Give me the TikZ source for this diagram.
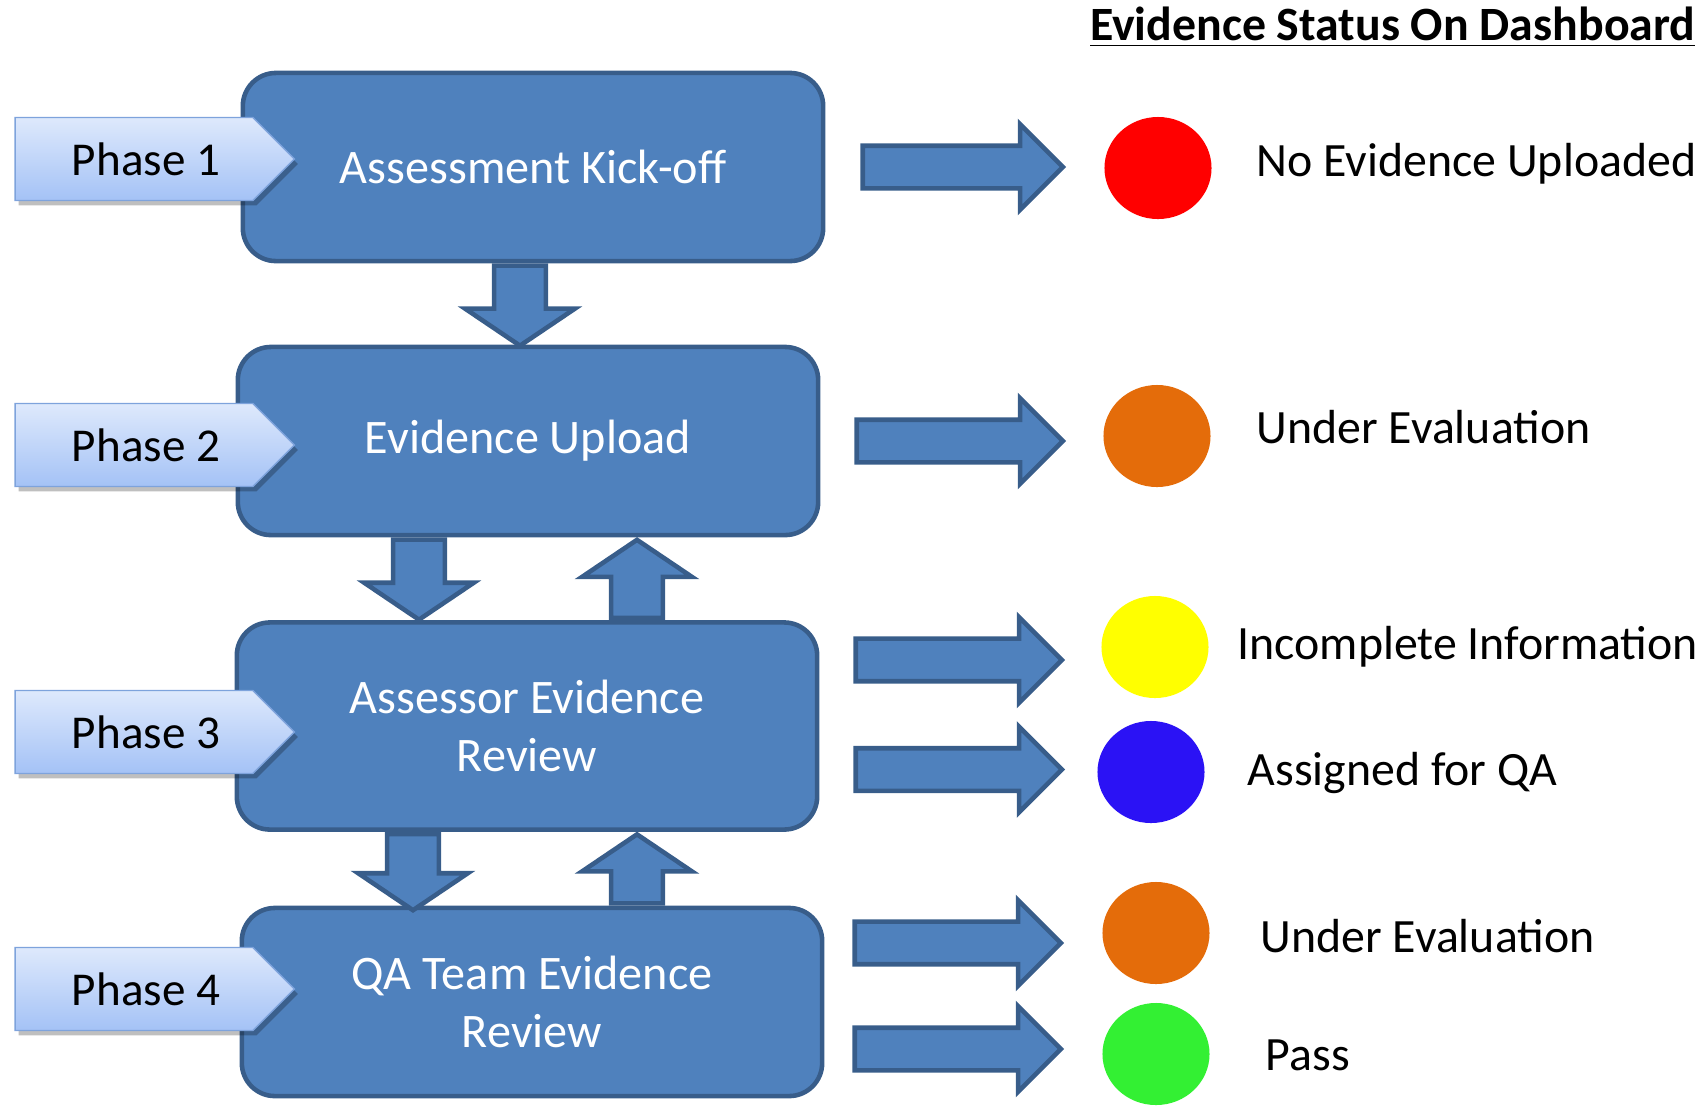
\documentclass[tikz,border=0pt]{standalone}
\usepackage{fontspec}
\setmainfont{Carlito}
\usetikzlibrary{shapes.arrows,shapes.geometric,shapes.symbols,shadows}
\definecolor{boxfill}{HTML}{4F81BD}
\definecolor{boxline}{HTML}{385D8A}
\definecolor{tagtop}{HTML}{DEE9FC}
\definecolor{tagbottom}{HTML}{A4C2F6}
\definecolor{tagline}{HTML}{7EA3DC}
\definecolor{dotred}{HTML}{FF0000}
\definecolor{dotorange}{HTML}{E46C0A}
\definecolor{dotyellow}{HTML}{FFFF00}
\definecolor{dotblue}{HTML}{2B12F5}
\definecolor{dotgreen}{HTML}{33F033}

\begin{document}
\begin{tikzpicture}[
      x=0.01cm, y=-0.01cm,
      stage box/.style={rectangle, rounded corners=0.33cm, draw=boxline, fill=boxfill,
        line width=1.3pt, minimum width=5.8cm, minimum height=#1, text=white,
        font=\fontsize{13.7}{16.5}\selectfont, align=center},
      stage box/.default=1.88cm,
      phase tag/.style={signal, signal to=east, signal pointer angle=90, draw=tagline,
        top color=tagtop, bottom color=tagbottom, minimum width=2.79cm, minimum height=0.83cm,
        font=\fontsize{13.4}{16}\selectfont,
        drop shadow={shadow xshift=1pt, shadow yshift=-1.4pt, fill=black, opacity=0.25}},
      flow arrow/.style={single arrow, draw=boxline, fill=boxfill, line width=1.3pt,
        inner xsep=0.235cm, inner ysep=0pt, single arrow head extend=0.29cm,
        single arrow tip angle=112, minimum width=0pt, minimum height=#1, anchor=tail},
      side arrow/.style={single arrow, draw=boxline, fill=boxfill, line width=1.3pt,
        inner xsep=0pt, inner ysep=0.19cm, single arrow head extend=0.215cm,
        single arrow tip angle=90, minimum width=0pt, minimum height=#1, anchor=tail},
      side arrow/.default=2.06cm,
      status dot/.style={ellipse, minimum width=1.07cm, minimum height=1.02cm, inner sep=0pt, fill=#1},
      status text/.style={anchor=base west, inner sep=0pt, font=\fontsize{13.6}{16}\selectfont}]
    \useasboundingbox (0,0) rectangle (1705,1105);

    \node[stage box] (box1) at (533,167) {Assessment Kick-off};
    \node[stage box] (box2) at (528,441) {Evidence Upload};
    \node[stage box=2.07cm] (box3) at (527,726) {Assessor Evidence\\Review};
    \node[stage box] (box4) at (532,1002) {QA Team Evidence\\Review};

    \node[phase tag] (tag1) at (134,159) {\hspace*{0.24cm}Phase 1};
    \node[phase tag] (tag2) at (134,445) {\hspace*{0.24cm}Phase 2};
    \node[phase tag] (tag3) at (134,732) {\hspace*{0.24cm}Phase 3};
    \node[phase tag] (tag4) at (134,989) {\hspace*{0.24cm}Phase 4};

    \node[flow arrow=0.8cm, shape border rotate=270] (down1) at (520,0 |- box1.south) {};
    \node[flow arrow=0.8cm, shape border rotate=270] (down2) at (419,0 |- box2.south) {};
    \node[flow arrow=0.78cm, shape border rotate=90] (up2) at (637,0 |- box3.north) {};
    \node[flow arrow=0.76cm, shape border rotate=270] (down3) at (413,0 |- box3.south) {};
    \node[flow arrow=0.69cm, shape border rotate=90] (up3) at (637,0 |- box4.north) {};

    \node[side arrow=2.0cm] (out1) at ([xshift=0.35cm]box1.east) {};
    \node[side arrow] (out2) at ([xshift=0.34cm]box2.east) {};
    \node[side arrow] (out3) at ([xshift=0.34cm, yshift=0.66cm]box3.east) {};
    \node[side arrow] (out4) at ([xshift=0.34cm, yshift=-0.435cm]box3.east) {};
    \node[side arrow] (out5) at ([xshift=0.28cm, yshift=0.59cm]box4.east) {};
    \node[side arrow] (out6) at ([xshift=0.28cm, yshift=-0.47cm]box4.east) {};

    \node[status dot=dotred] (dot1) at (1158,168) {};
    \node[status dot=dotorange] (dot2) at (1157,436) {};
    \node[status dot=dotyellow] (dot3) at (1155,647) {};
    \node[status dot=dotblue] (dot4) at (1151,772) {};
    \node[status dot=dotorange] (dot5) at (1156,933) {};
    \node[status dot=dotgreen] (dot6) at (1156,1054) {};

    \node[status text] (lab1) at (1256,176) {No Evidence Uploaded};
    \node[status text] (lab2) at (1256,443) {Under Evaluation};
    \node[status text] (lab3) at (1237,659) {Incomplete Information};
    \node[status text] (lab4) at (1247,785) {Assigned for QA};
    \node[status text] (lab5) at (1260,952) {Under Evaluation};
    \node[status text] (lab6) at (1265,1070) {Pass};

    \node[anchor=base east, inner sep=0pt, font=\fontsize{13.6}{16}\selectfont\bfseries] (title) at (1696,40)
      {\underline{Evidence Status On Dashboard}};
    \end{tikzpicture}
\end{document}
